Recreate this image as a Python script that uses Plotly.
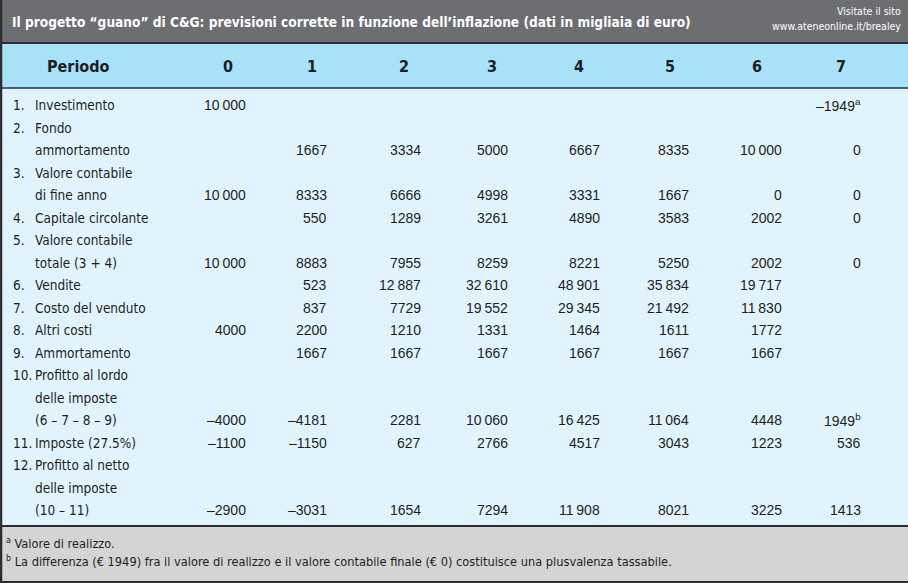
import plotly.graph_objects as go

# ---------------- data ----------------
title = "Il progetto “guano” di C&G: previsioni corrette in funzione dell’inflazione (dati in migliaia di euro)"
site_lines = ["Visitate il sito", "www.ateneonline.it/brealey"]
header_label = "Periodo"
periods = ["0", "1", "2", "3", "4", "5", "6", "7"]

item_numbers = ["1.", "2.", "3.", "4.", "5.", "6.", "7.", "8.", "9.", "10.", "11.", "12."]
item_labels = [
    ["Investimento"],
    ["Fondo", "ammortamento"],
    ["Valore contabile", "di fine anno"],
    ["Capitale circolante"],
    ["Valore contabile", "totale (3 + 4)"],
    ["Vendite"],
    ["Costo del venduto"],
    ["Altri costi"],
    ["Ammortamento"],
    ["Profitto al lordo", "delle imposte", "(6 – 7 – 8 – 9)"],
    ["Imposte (27.5%)"],
    ["Profitto al netto", "delle imposte", "(10 – 11)"],
]
investimento        = [10000, None, None, None, None, None, None, -1949]
fondo_ammortamento  = [None, 1667, 3334, 5000, 6667, 8335, 10000, 0]
valore_fine_anno    = [10000, 8333, 6666, 4998, 3331, 1667, 0, 0]
capitale_circolante = [None, 550, 1289, 3261, 4890, 3583, 2002, 0]
valore_totale       = [10000, 8883, 7955, 8259, 8221, 5250, 2002, 0]
vendite             = [None, 523, 12887, 32610, 48901, 35834, 19717, None]
costo_venduto       = [None, 837, 7729, 19552, 29345, 21492, 11830, None]
altri_costi         = [4000, 2200, 1210, 1331, 1464, 1611, 1772, None]
ammortamento        = [None, 1667, 1667, 1667, 1667, 1667, 1667, None]
profitto_lordo      = [-4000, -4181, 2281, 10060, 16425, 11064, 4448, 1949]
imposte             = [-1100, -1150, 627, 2766, 4517, 3043, 1223, 536]
profitto_netto      = [-2900, -3031, 1654, 7294, 11908, 8021, 3225, 1413]
rows = [investimento, fondo_ammortamento, valore_fine_anno, capitale_circolante,
        valore_totale, vendite, costo_venduto, altri_costi, ammortamento,
        profitto_lordo, imposte, profitto_netto]
# footnote marks: (item index, period index) -> mark
marks = {(0, 7): "a", (9, 7): "b"}
footnotes = [
    ("a", "Valore di realizzo."),
    ("b", "La differenza (€ 1949) fra il valore di realizzo e il valore contabile finale (€ 0) costituisce una plusvalenza tassabile."),
]

# ---------------- layout constants ----------------
W, H = 908, 583
NARROW = "DejaVu Sans Condensed, Liberation Sans Narrow, Arial Narrow, sans-serif"
NUMFONT = "Liberation Sans, Arial, sans-serif"
col_right = [246, 327, 421, 508, 600, 689, 782, 861]
col_center = [228, 312, 404, 492, 579, 670, 757, 841]
line_y0, line_dy = 105, 22.5
num_x, text_x = 13, 35

C_TITLE = "#6d6e71"
C_HEAD = "#a9e1f9"
C_BODY = "#e1f4fd"
C_FOOT = "#d4d4d4"
C_LINE = "#2e2e30"
C_TEXT = "#1e1e1e"


def fmt(v):
    s = str(abs(v))
    if len(s) >= 5:
        s = s[:-3] + "\u2009" + s[-3:]
    return ("–" if v < 0 else "") + s


fig = go.Figure()
shapes = [
    dict(type="rect", x0=0, x1=W, y0=0, y1=43, fillcolor=C_TITLE, line_width=0),
    dict(type="rect", x0=0, x1=W, y0=43, y1=88, fillcolor=C_HEAD, line_width=0),
    dict(type="rect", x0=0, x1=W, y0=88, y1=526, fillcolor=C_BODY, line_width=0),
    dict(type="rect", x0=0, x1=W, y0=526, y1=581, fillcolor=C_FOOT, line_width=0),
    dict(type="line", x0=0, x1=W, y0=43, y1=43, line=dict(color=C_LINE, width=2)),
    dict(type="line", x0=0, x1=W, y0=88, y1=88, line=dict(color=C_LINE, width=1.5)),
    dict(type="line", x0=0, x1=W, y0=526, y1=526, line=dict(color=C_LINE, width=2)),
    dict(type="line", x0=0, x1=W, y0=582, y1=582, line=dict(color=C_LINE, width=2)),
    dict(type="line", x0=1, x1=1, y0=0, y1=583, line=dict(color=C_LINE, width=2.5)),
]
for s in shapes:
    s.update(xref="x", yref="y", layer="below")

ann = []


def add(x, y, text, anchor="left", size=14, family=NARROW, color=C_TEXT):
    ann.append(dict(x=x, y=y, xref="x", yref="y", text=text, showarrow=False,
                    xanchor=anchor, yanchor="middle", borderpad=0, borderwidth=0,
                    font=dict(family=family, size=size, color=color)))


# title band
add(12, 22, "<b>" + title + "</b>", size=13.6, color="white")
add(901, 11, site_lines[0], anchor="right", size=10.5, color="white")
add(901, 26, site_lines[1], anchor="right", size=10.5, color="white")

# header
add(78, 66, "<b>" + header_label + "</b>", anchor="center", size=16)
for j, p in enumerate(periods):
    add(col_center[j], 66, "<b>" + p + "</b>", anchor="center", size=16)

# body
line = 0
for i, (num, labels, vals) in enumerate(zip(item_numbers, item_labels, rows)):
    for k, lab in enumerate(labels):
        y = line_y0 + line_dy * line
        if k == 0:
            add(num_x, y, num, size=13.5)
        add(text_x, y, lab, size=13.5)
        if k == len(labels) - 1:
            for j, v in enumerate(vals):
                if v is None:
                    continue
                t = fmt(v)
                if (i, j) in marks:
                    t += "<sup>" + marks[(i, j)] + "</sup>"
                add(col_right[j], y, t, anchor="right", family=NUMFONT)
        line += 1

# footnotes
for k, (m, txt) in enumerate(footnotes):
    add(6, 543 + 18 * k, "<sup>" + m + "</sup> " + txt, size=12.7)

fig.update_layout(
    width=W, height=H, margin=dict(l=0, r=0, t=0, b=0),
    paper_bgcolor="white", plot_bgcolor="white",
    xaxis=dict(range=[0, W], visible=False, fixedrange=True),
    yaxis=dict(range=[H, 0], visible=False, fixedrange=True),
    shapes=shapes, annotations=ann, showlegend=False,
)
fig.write_html("out.html", config={"displayModeBar": False},
               post_script="document.body.style.margin='0';document.body.style.padding='0';")
